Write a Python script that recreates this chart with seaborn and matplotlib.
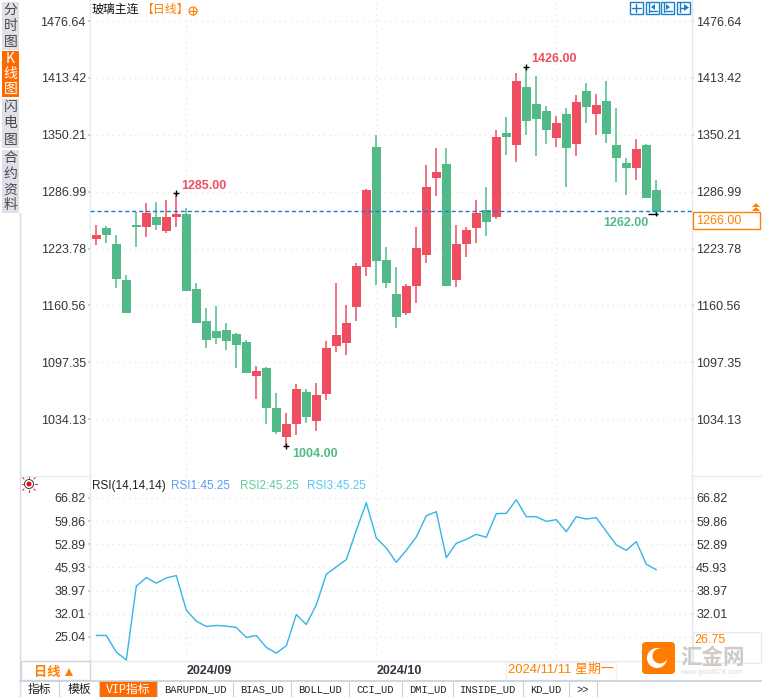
from matplotlib import pyplot as plt
from matplotlib.patches import Rectangle, FancyBboxPatch, Circle, Polygon
from matplotlib.ticker import AutoMinorLocator
import pandas as pd
import seaborn as sns

# daily candles
highs = [1250, 1249, 1239, 1194, 1264, 1274, 1276, 1278, 1285, 1269, 1186, 1158, 1160, 1141, 1130, 1122, 1093, 1092, 1063,
         1041, 1073, 1068, 1074, 1121, 1186, 1161, 1208, 1290, 1350, 1226, 1203, 1184, 1248, 1317, 1336, 1336, 1250, 1248,
         1278, 1292, 1356, 1370, 1419, 1426, 1416, 1382, 1371, 1380, 1394, 1408, 1396, 1410, 1380, 1324, 1346, 1340, 1300]
tops = [1239, 1247, 1229, 1189, 1249, 1263, 1259, 1259, 1262, 1262, 1179, 1143, 1132, 1133, 1129, 1120, 1088, 1091, 1047,
        1029, 1068, 1064, 1061, 1113, 1128, 1141, 1204, 1289, 1337, 1211, 1173, 1182, 1224, 1292, 1309, 1318, 1229, 1244,
        1263, 1267, 1348, 1352, 1410, 1403, 1384, 1377, 1363, 1373, 1387, 1399, 1383, 1388, 1339, 1319, 1334, 1339, 1289]
bottoms = [1234, 1239, 1190, 1152, 1248, 1248, 1250, 1243, 1259, 1177, 1141, 1122, 1124, 1121, 1117, 1086, 1082, 1047, 1020,
           1014, 1029, 1037, 1032, 1062, 1116, 1119, 1159, 1203, 1210, 1186, 1148, 1152, 1182, 1217, 1302, 1182, 1189, 1229,
           1247, 1253, 1259, 1348, 1339, 1366, 1368, 1356, 1347, 1336, 1340, 1381, 1373, 1351, 1324, 1313, 1313, 1280, 1264]
lows = [1228, 1230, 1180, 1152, 1226, 1237, 1244, 1241, 1248, 1177, 1141, 1113, 1118, 1111, 1091, 1086, 1057, 1029, 1018,
        1004, 1017, 1030, 1021, 1056, 1109, 1106, 1143, 1193, 1183, 1180, 1136, 1150, 1163, 1208, 1282, 1182, 1181, 1214,
        1230, 1238, 1257, 1328, 1320, 1350, 1327, 1340, 1337, 1292, 1327, 1363, 1350, 1341, 1298, 1283, 1300, 1280, 1262]
ups = [1, 0, 0, 0, 0, 1, 0, 1, 1, 0, 0, 0, 0, 0, 0, 0, 1, 0, 0,
       1, 1, 0, 1, 1, 1, 1, 1, 1, 0, 0, 0, 1, 1, 1, 1, 0, 1, 1,
       1, 0, 1, 0, 1, 0, 0, 0, 1, 0, 1, 0, 1, 0, 0, 0, 1, 0, 0]
rsi = [25.5, 25.5, 20.5, 18.1, 40.3, 42.9, 41.2, 42.8, 43.5, 33.1, 29.8, 28.2, 28.5, 28.3, 27.9, 24.9, 25.5, 21.9, 20.2,
       22.4, 31.8, 28.8, 34.7, 43.9, 46.1, 48.3, 57.1, 65.4, 54.8, 51.8, 47.5, 51.1, 55.1, 61.5, 62.7, 48.9, 53.2, 54.4,
       55.9, 55.0, 62.1, 62.2, 66.3, 61.2, 61.2, 59.8, 60.3, 56.7, 61.2, 60.5, 60.9, 56.8, 52.7, 51.1, 53.7, 46.9, 45.25]

price_ticks = [1476.64, 1413.42, 1350.21, 1286.99, 1223.78, 1160.56, 1097.35, 1034.13]
rsi_ticks = [66.82, 59.86, 52.89, 45.93, 38.97, 32.01, 25.04]
date_pos = [9, 28, 46]
date_labels = ["2024/09", "2024/10", ""]
last_price = 1266
tabs = ["指标", "模板", "VIP指标", "BARUPDN_UD", "BIAS_UD", "BOLL_UD", "CCI_UD", "DMI_UD", "INSIDE_UD", "KD_UD", ">>"]
tab_edges = [20, 59, 99, 157, 233, 291, 349, 402, 453, 523, 569, 597]
side_tabs = ["分时图", "K线图", "闪电图", "合约资料"]
side_spans = [(2, 50), (51, 97), (99, 148), (150, 213)]

RED = "#EE4E60"
GREEN = "#52BA88"
ORANGE = "#FF8000"
GRID = "#e9e9e9"
TEXT = "#33353f"
W, H = 762, 697
CJK = ["Noto Sans CJK SC", "DejaVu Sans"]


def pixel_axes(fig, x0, y0, x1, y1, **kw):
    return fig.add_axes([x0 / W, 1 - y1 / H, (x1 - x0) / W, (y1 - y0) / H], **kw)


def style_panel(ax, ticks):
    ax.set_xlim(-0.63, 59.57)
    ax.set_yticks(ticks)
    ax.set_yticklabels([f"{t:.2f}" for t in ticks])
    ax.yaxis.set_minor_locator(AutoMinorLocator(5))
    ax.set_xticks(date_pos)
    ax.set_xlabel("")
    ax.set_ylabel("")
    ax.grid(True, linestyle=(0, (1, 3)), color=GRID, linewidth=1)
    ax.set_axisbelow(True)
    ax.tick_params(axis="y", which="major", left=True, right=True, labelleft=True, labelright=True,
                   length=1.5, color="#c8c8c8", labelsize=9, labelcolor=TEXT, pad=1.5)
    ax.tick_params(axis="y", which="minor", left=True, right=True, length=1, color="#d5d5d5")
    for name in ax.spines:
        ax.spines[name].set_visible(True)
        ax.spines[name].set_color("#e6ebf0")
        ax.spines[name].set_linewidth(1)
    ax.spines["top"].set_visible(False)


def draw_candles(ax):
    df = pd.DataFrame({"day": range(len(highs)), "high": highs, "top": tops, "bottom": bottoms, "low": lows, "up": ups})
    for up, color in [(1, RED), (0, GREEN)]:
        part = df[df["up"] == up]
        ax.vlines(part["day"], part["low"], part["high"], color=color, linewidth=1.1, zorder=3)
        ax.bar(part["day"], (part["top"] - part["bottom"]).clip(lower=1.5), bottom=part["bottom"], width=0.9,
               color=color, linewidth=0, zorder=4)


def label_extremes(ax):
    marks = [(8, 1285, "1285.00", RED, 0.47, 1293), (43, 1426, "1426.00", RED, 0.47, 1434),
             (19, 1004, "1004.00", GREEN, 0.6, 995), (56, 1262, "1262.00", GREEN, -5.33, 1252)]
    for day, price, text, color, dx, ty in marks:
        if day != 56:
            ax.plot([day], [price], marker="+", color="black", markersize=5, markeredgewidth=1, zorder=6)
        ax.text(day + dx, ty, text, color=color, fontsize=9, fontweight="bold", family="Liberation Sans", va="center")
    ax.hlines(1262, 55.2, 56.2, color="black", linewidth=1, zorder=6)
    ax.vlines(56, 1260, 1264, color="black", linewidth=1, zorder=6)


def draw_buttons(ui):
    blue = "#1c80c8"
    for x0 in (630, 646, 661, 677):
        ui.add_patch(Rectangle((x0, 1.5), 12.5, 12.5, fill=False, ec=blue, lw=1))
    ui.plot([636.2, 636.2], [3.5, 12], color=blue, lw=1)
    ui.plot([632, 640.5], [7.7, 7.7], color=blue, lw=1)
    ui.plot([649, 649], [3, 12], color=blue, lw=1)
    ui.plot([649, 657], [11, 11], color=blue, lw=1)
    ui.add_patch(Polygon([[651, 7], [655, 4], [655, 10]], color=blue, lw=0))
    ui.plot([664, 664], [3, 12], color=blue, lw=1)
    ui.plot([664, 672], [11, 11], color=blue, lw=1)
    ui.add_patch(Polygon([[670, 7], [666, 4], [666, 10]], color=blue, lw=0))
    ui.plot([680, 680], [3, 12], color=blue, lw=1)
    ui.add_patch(Polygon([[689, 7.5], [684, 4], [684, 11]], color=blue, lw=0))
    ui.plot([681, 685], [7.5, 7.5], color=blue, lw=1)


def draw_chrome(ui):
    ui.set_xlim(0, W)
    ui.set_ylim(H, 0)
    ui.axis("off")
    ui.patch.set_alpha(0)

    # side tabs
    for label, (y0, y1) in zip(side_tabs, side_spans):
        active = label == "K线图"
        ui.add_patch(Rectangle((2, y0), 17, y1 - y0, color="#FF6A00" if active else "#dfe0e8", lw=0))
        step = (y1 - y0) / len(label)
        for n, ch in enumerate(label):
            ui.text(10.5, y0 + step * (n + 0.5), ch, ha="center", va="center", fontsize=10, family=CJK,
                    color="white" if active else "#4a4a50")
    ui.plot([19.5, 19.5], [213, 697], color="#d5dbe2", lw=1)
    ui.plot([20, 90], [476, 476], color="#e6ebf0", lw=1)
    ui.plot([692, W], [476, 476], color="#e6ebf0", lw=1)

    # title
    ui.text(92, 9, "玻璃主连", fontsize=8.6, family=CJK, va="center", color="#111111")
    ui.text(141, 9, "【日线】", fontsize=8.6, family=CJK, va="center", color=ORANGE)
    ui.add_patch(Circle((193, 11), 4, fill=False, ec=ORANGE, lw=0.8))
    ui.plot([189, 197], [11, 11], color=ORANGE, lw=0.8)
    ui.plot([193, 193], [7, 15], color=ORANGE, lw=0.8)

    draw_buttons(ui)

    # last price flag
    ui.add_patch(Rectangle((692.5, 212), 67.5, 17, fc="white", ec=ORANGE, lw=1))
    ui.text(696, 220.5, f"{last_price}.00", color=ORANGE, fontsize=9, family="Liberation Sans", va="center")
    ui.add_patch(Polygon([[752, 207], [756, 203], [760, 207]], color=ORANGE, lw=0))
    ui.add_patch(Polygon([[752, 211], [756, 207], [760, 211]], color=ORANGE, lw=0))

    # rsi header
    ui.add_patch(Circle((29, 484), 2.5, color="#e01010", lw=0))
    ui.add_patch(Circle((29, 484), 4.5, fill=False, ec="#222222", lw=0.6))
    for dx, dy in [(-6, 0), (6, 0), (0, -6), (0, 6), (-5, -5), (5, 5), (-5, 5), (5, -5)]:
        ui.plot([29 + dx, 29 + dx * 1.25], [484 + dy, 484 + dy * 1.25], color="#e01010", lw=0.7)
    for x, text, color in [(92, "RSI(14,14,14)", "#222222"), (171, "RSI1:45.25", "#5b9cf6"),
                           (240, "RSI2:45.25", "#5fcf9b"), (307, "RSI3:45.25", "#5cc6ee")]:
        ui.text(x, 486, text, color=color, fontsize=8.5, family="Liberation Sans", va="center")

    # rsi cursor box
    ui.add_patch(Rectangle((692.5, 632), 68, 31, fc="white", ec="#e6ebf0", lw=1))
    ui.text(694, 640, "26.75", color=ORANGE, fontsize=9, family="Liberation Sans", va="center")

    # period box and date
    ui.add_patch(Rectangle((20.5, 661), 69, 19, fc="white", ec="#cfd6de", lw=1))
    ui.text(34, 672, "日线", color=ORANGE, fontsize=9.5, fontweight="bold", family=CJK, va="center")
    ui.add_patch(Polygon([[65, 676], [69, 668], [73, 676]], color=ORANGE, lw=0))
    ui.add_patch(Rectangle((506, 662), 110, 18, fc="white", ec="#eef0f3", lw=1))
    ui.text(508, 670, "2024/11/11 星期一", color=ORANGE, fontsize=9.4, family=["Liberation Sans", "Noto Sans CJK SC"],
            va="center")

    # bottom tab strip
    ui.plot([20, W], [681, 681], color="#c9d0d8", lw=1.2)
    for n, label in enumerate(tabs):
        x0, x1 = tab_edges[n], tab_edges[n + 1]
        active = label == "VIP指标"
        if active:
            ui.add_patch(Rectangle((x0 + 1, 681), x1 - x0 - 1, 16, color="#FF6A00", lw=0))
        ui.plot([x1, x1], [681, 697], color="#c9d0d8", lw=0.8)
        ascii_only = label.isascii()
        ui.text((x0 + x1) / 2, 689.5, label, ha="center", va="center", fontsize=7.5 if ascii_only else 8.5,
                family=["Liberation Mono", "Noto Sans CJK SC"] if ascii_only or active else CJK,
                color="white" if active else "#222222")

    # logo
    ui.add_patch(FancyBboxPatch((644, 644), 29, 28, boxstyle="round,pad=2,rounding_size=4", fc="#FF7C00", lw=0))
    ui.add_patch(Circle((657, 658), 10, fc="white", lw=0))
    ui.add_patch(Circle((660, 656), 7.5, fc="#FF7C00", lw=0))
    ui.text(680, 657, "汇金网", color="#cfcac4", fontsize=15.5, fontweight="bold", family=CJK, va="center")
    ui.text(680, 672, "www.gold678.com", color="#dedbd6", fontsize=5.5, family="Liberation Sans", va="center")


def main():
    sns.set_theme(style="white")
    plt.rcParams["font.family"] = ["Liberation Sans", "Noto Sans CJK SC", "DejaVu Sans"]
    fig = plt.figure(figsize=(W / 100, H / 100), dpi=100, facecolor="white")

    ax_k = pixel_axes(fig, 90, 0, 692, 476)
    draw_candles(ax_k)
    ax_k.axhline(last_price, color="#1f78d8", linewidth=1, linestyle=(0, (3, 2)), zorder=5)
    label_extremes(ax_k)
    style_panel(ax_k, price_ticks)
    ax_k.set_ylim(971.1, 1500)
    ax_k.set_xticklabels([])
    ax_k.tick_params(axis="x", length=0)

    ax_rsi = pixel_axes(fig, 90, 476, 692, 661)
    sns.lineplot(x=range(len(rsi)), y=rsi, ax=ax_rsi, color="#35b4e6", linewidth=1, errorbar=None)
    style_panel(ax_rsi, rsi_ticks)
    ax_rsi.set_ylim(17.82, 73.43)
    ax_rsi.set_xticklabels(date_labels, ha="left", fontweight="bold", fontsize=9, color=TEXT)
    ax_rsi.tick_params(axis="x", length=0, pad=3)
    # the cursor box covers the lowest label on the right
    ax_rsi.yaxis.get_major_ticks()[-1].label2.set_visible(False)

    ui = pixel_axes(fig, 0, 0, W, H, zorder=10)
    draw_chrome(ui)

    fig.savefig("out.png", dpi=100)


if __name__ == "__main__":
    main()
